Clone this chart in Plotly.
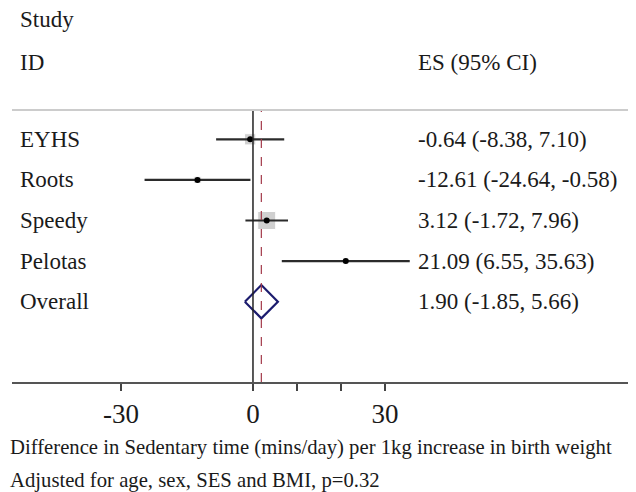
import plotly.graph_objects as go

# Study data
studies = ["EYHS", "Roots", "Speedy", "Pelotas"]
es = [-0.64, -12.61, 3.12, 21.09]
ci_lo = [-8.38, -24.64, -1.72, 6.55]
ci_hi = [7.10, -0.58, 7.96, 35.63]
weights = [23.5, 9.7, 60.2, 6.7]  # % weight, sets box size

overall_label = "Overall"
overall_es = 1.90
overall_lo = -1.85
overall_hi = 5.66

tick_vals = [-30, 0, 10, 20, 30]
tick_text = ["-30", "0", "", "", "30"]

footnote1 = "Difference in Sedentary time (mins/day) per 1kg increase in birth weight"
footnote2 = "Adjusted for age, sex, SES and BMI, p=0.32"

FONT = "Liberation Serif, Times New Roman, serif"
TXT = "#1a1a1a"

rows = list(range(1, len(studies) + 1))
overall_row = len(studies) + 1

fig = go.Figure()

# weight boxes
wmax = max(weights)
fig.add_trace(go.Scatter(
    x=es, y=rows, mode="markers",
    marker=dict(symbol="square", color="#bdbdbd",
                size=[18 * (w / wmax) ** 0.5 for w in weights]),
    hoverinfo="skip", showlegend=False))

# confidence intervals and point estimates
fig.add_trace(go.Scatter(
    x=es, y=rows, mode="markers",
    marker=dict(color="black", size=6),
    error_x=dict(type="data", symmetric=False,
                 array=[h - e for h, e in zip(ci_hi, es)],
                 arrayminus=[e - l for e, l in zip(es, ci_lo)],
                 width=0, thickness=2.2, color="#2b2b2b"),
    showlegend=False))

# overall diamond
half_h = 0.41
fig.add_trace(go.Scatter(
    x=[overall_lo, overall_es, overall_hi, overall_es, overall_lo],
    y=[overall_row, overall_row - half_h, overall_row, overall_row + half_h, overall_row],
    mode="lines", line=dict(color="#1c1c6e", width=2.2),
    hoverinfo="skip", showlegend=False))

# null line and pooled estimate line
fig.add_shape(type="line", x0=0, x1=0, y0=0, y1=1, yref="paper",
              line=dict(color="#222222", width=1.5))
fig.add_shape(type="line", x0=overall_es, x1=overall_es, y0=0, y1=1, yref="paper",
              line=dict(color="#a33a4a", width=1.2, dash="dash"))
# header separator
fig.add_shape(type="line", x0=0, x1=1, xref="paper", y0=1, y1=1, yref="paper",
              line=dict(color="#cccccc", width=2))

# text columns
labels = studies + [overall_label]
es_text = [f"{e:.2f} ({l:.2f}, {h:.2f})" for e, l, h in zip(es, ci_lo, ci_hi)]
es_text.append(f"{overall_es:.2f} ({overall_lo:.2f}, {overall_hi:.2f})")
for r, lab, t in zip(rows + [overall_row], labels, es_text):
    fig.add_annotation(x=0.0096, xref="paper", y=r, yref="y", text=lab,
                       showarrow=False, xanchor="left", yanchor="middle")
    fig.add_annotation(x=0.6474, xref="paper", y=r, yref="y", text=t,
                       showarrow=False, xanchor="left", yanchor="middle")

for txt, xp, yp in [("Study", 0.0096, 1.331), ("ID", 0.0096, 1.176),
                    ("ES (95% CI)", 0.6474, 1.176)]:
    fig.add_annotation(x=xp, xref="paper", y=yp, yref="paper", text=txt,
                       showarrow=False, xanchor="left", yanchor="middle")

fig.add_annotation(x=-0.0064, xref="paper", y=-0.241, yref="paper", text=footnote1,
                   showarrow=False, xanchor="left", yanchor="middle",
                   font=dict(size=20.7))
fig.add_annotation(x=-0.0064, xref="paper", y=-0.363, yref="paper", text=footnote2,
                   showarrow=False, xanchor="left", yanchor="middle",
                   font=dict(size=20.7))

fig.update_layout(
    width=628, height=484,
    margin=dict(l=4, r=0, t=102, b=110),
    plot_bgcolor="white", paper_bgcolor="white",
    font=dict(family=FONT, size=23, color=TXT),
    xaxis=dict(range=[-54.77, 87.05], tickvals=tick_vals, ticktext=tick_text,
               ticks="outside", ticklen=7, tickwidth=1.5, tickcolor="#444444",
               showline=True, linecolor="#555555", linewidth=2,
               showgrid=False, zeroline=False,
               tickfont=dict(size=27, family=FONT, color=TXT)),
    yaxis=dict(range=[6.978, 0.278], visible=False, showgrid=False, zeroline=False),
)

fig.write_html("out.html")
